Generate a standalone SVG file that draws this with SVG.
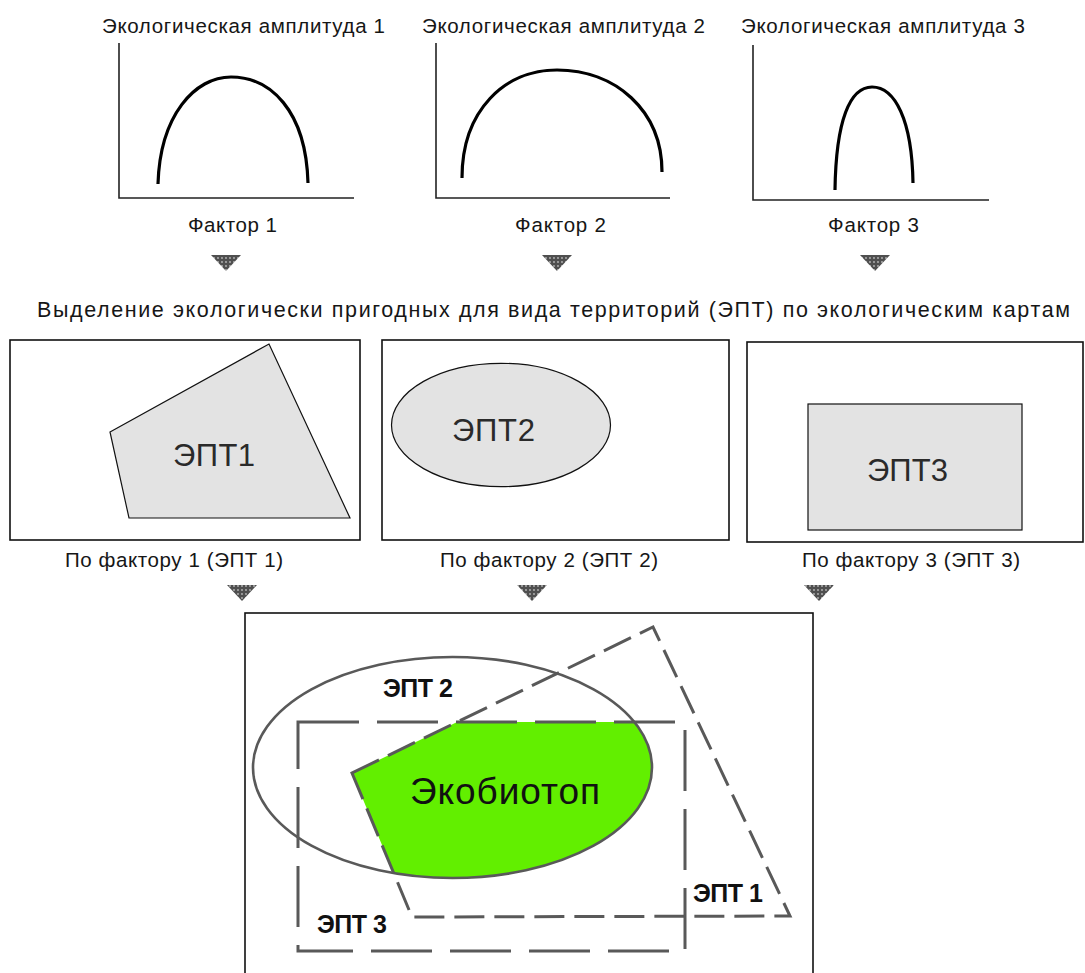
<svg xmlns="http://www.w3.org/2000/svg" width="1085" height="973" viewBox="0 0 1085 973">
<style>
text{font-family:"Liberation Sans",Arial,sans-serif;fill:#161616}
.t{font-size:20.5px}
.h{font-size:21.5px}
.big{font-size:31px;fill:#2a2a2a}
.lb{font-size:25px;font-weight:bold;fill:#111}
.axis{fill:none;stroke:#222;stroke-width:1.6}
.curve{fill:none;stroke:#000;stroke-width:3.2;stroke-linecap:butt}
.box{fill:#fff;stroke:#111;stroke-width:1.6}
.area{fill:#e3e3e3;stroke:#111;stroke-width:1.2}
.dq{fill:none;stroke:#595959;stroke-width:3;stroke-dasharray:30 10}
.dr{fill:none;stroke:#595959;stroke-width:3;stroke-dasharray:61 18}
.el{fill:none;stroke:#595959;stroke-width:2.6}
.arr{fill:url(#stip)}
</style>
<defs>
<pattern id="stip" width="4" height="4" patternUnits="userSpaceOnUse">
<rect width="4" height="4" fill="#4f4f4f"/>
<circle cx="2" cy="2" r="0.9" fill="#b8b8b8"/>
</pattern>
<clipPath id="cRect"><rect x="298" y="722" width="387" height="229"/></clipPath>
<clipPath id="cEll"><ellipse cx="452.5" cy="767.5" rx="199.5" ry="110.5"/></clipPath>
</defs>
<rect width="1085" height="973" fill="#fff"/>

<g id="chart1">
<text class="t" x="102" y="33" textLength="283">Экологическая амплитуда 1</text>
<path class="axis" d="M119,43 V198 H354"/>
<path class="curve" d="M158,184 C160,115 195,77 231,77 C270,77 306,110 308,183"/>
<text class="t" x="188" y="232" textLength="89">Фактор 1</text>
</g>
<g id="chart2">
<text class="t" x="422" y="33" textLength="283">Экологическая амплитуда 2</text>
<path class="axis" d="M436,43 V198 H670"/>
<path class="curve" d="M462,178 C462,110 505,70 557,70 C615,70 662,110 662,172"/>
<text class="t" x="515" y="232" textLength="91">Фактор 2</text>
</g>
<g id="chart3">
<text class="t" x="741" y="33" textLength="284">Экологическая амплитуда 3</text>
<path class="axis" d="M753,45 V200 H989"/>
<path class="curve" d="M835,190 C836,120 850,87 872,87 C895,87 912,120 913,183"/>
<text class="t" x="828" y="232" textLength="91">Фактор 3</text>
</g>

<g id="header">
<text class="h" x="37" y="317" textLength="1033">Выделение экологически пригодных для вида территорий (ЭПТ) по экологическим картам</text>
</g>

<g id="map1">
<rect class="box" x="10" y="340" width="350" height="200"/>
<polygon class="area" points="110,432 269,344 350,518 129,518"/>
<text class="big" x="173" y="466" textLength="82">ЭПТ1</text>
<text class="t" x="65" y="567" textLength="218">По фактору 1 (ЭПТ 1)</text>
</g>
<g id="map2">
<rect class="box" x="382" y="340" width="347" height="200"/>
<ellipse class="area" cx="501" cy="425" rx="109.5" ry="61.7"/>
<text class="big" x="452" y="441" textLength="83">ЭПТ2</text>
<text class="t" x="440" y="567" textLength="218">По фактору 2 (ЭПТ 2)</text>
</g>
<g id="map3">
<rect class="box" x="747" y="342" width="336" height="200"/>
<rect class="area" x="808" y="404" width="214" height="126"/>
<text class="big" x="867" y="481" textLength="81">ЭПТ3</text>
<text class="t" x="802" y="567" textLength="218">По фактору 3 (ЭПТ 3)</text>
</g>

<g id="result">
<rect class="box" x="245" y="613" width="568" height="380"/>
<g clip-path="url(#cRect)">
<polygon clip-path="url(#cEll)" points="653,627 790,916 412,917 352,773" fill="#62ef00"/>
</g>
<ellipse class="el" cx="452.5" cy="767.5" rx="199.5" ry="110.5"/>
<path class="dr" d="M298,722 H685 V951 H298 Z"/>
<path class="dq" d="M352,773 L653,627 L790,916 L412,917 Z"/>
<text x="410" y="804" textLength="190" style="font-size:37px;fill:#111">Экобиотоп</text>
<text class="lb" x="383" y="697" textLength="70">ЭПТ 2</text>
<text class="lb" x="693" y="902" textLength="70">ЭПТ 1</text>
<text class="lb" x="317" y="933" textLength="70">ЭПТ 3</text>
</g>

<g id="connectors">
<polygon class="arr" points="211,255 241,255 226,271"/>
<polygon class="arr" points="542,255 572,255 557,271"/>
<polygon class="arr" points="860,255 890,255 875,271"/>
<polygon class="arr" points="227,585 257,585 242,601"/>
<polygon class="arr" points="517,585 547,585 532,601"/>
<polygon class="arr" points="804,585 834,585 819,601"/>
</g>
</svg>
